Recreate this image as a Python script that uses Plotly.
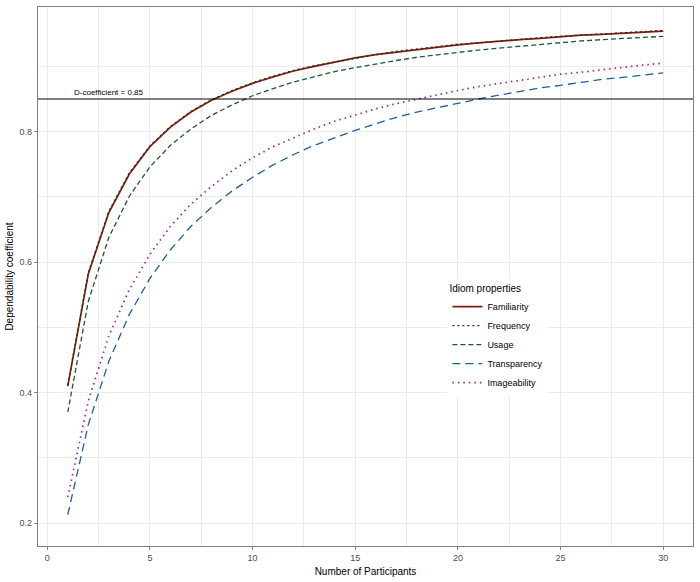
import plotly.graph_objects as go

participants = list(range(1, 31))

familiarity = [0.410, 0.582, 0.676, 0.735, 0.777, 0.807, 0.830, 0.848, 0.862, 0.874,
               0.884, 0.893, 0.900, 0.907, 0.913, 0.918, 0.922, 0.926, 0.930, 0.933,
               0.936, 0.939, 0.941, 0.943, 0.946, 0.948, 0.949, 0.951, 0.953, 0.954]
frequency = [0.412, 0.584, 0.678, 0.737, 0.778, 0.808, 0.831, 0.849, 0.863, 0.875,
             0.885, 0.894, 0.901, 0.907, 0.913, 0.918, 0.923, 0.927, 0.930, 0.934,
             0.936, 0.939, 0.941, 0.944, 0.946, 0.948, 0.950, 0.951, 0.953, 0.955]
usage = [0.370, 0.540, 0.638, 0.701, 0.746, 0.779, 0.804, 0.825, 0.841, 0.855,
         0.866, 0.876, 0.884, 0.892, 0.898, 0.904, 0.909, 0.914, 0.918, 0.922,
         0.925, 0.928, 0.931, 0.934, 0.936, 0.939, 0.941, 0.943, 0.945, 0.946]
transparency = [0.213, 0.351, 0.448, 0.520, 0.575, 0.619, 0.655, 0.684, 0.709, 0.730,
                0.749, 0.765, 0.779, 0.791, 0.802, 0.812, 0.822, 0.830, 0.837, 0.844,
                0.850, 0.856, 0.862, 0.867, 0.871, 0.876, 0.880, 0.883, 0.887, 0.890]
imageability = [0.240, 0.387, 0.487, 0.558, 0.612, 0.655, 0.689, 0.716, 0.740, 0.760,
                0.777, 0.791, 0.804, 0.816, 0.826, 0.835, 0.843, 0.850, 0.857, 0.863,
                0.869, 0.874, 0.879, 0.883, 0.888, 0.891, 0.895, 0.898, 0.902, 0.905]

series = [
    ('Familiarity', familiarity, '#7b1f12', 'solid', 1.7),
    ('Frequency', frequency, '#2f2f14', '2px,3px', 1.3),
    ('Usage', usage, '#1d5a32', '5px,3px', 1.3),
    ('Transparency', transparency, '#1f5f9e', '8px,5px', 1.3),
    ('Imageability', imageability, '#a0209a', '1.5px,4px', 1.7),
]

fig = go.Figure()
for name, vals, color, dash, width in series:
    fig.add_trace(go.Scatter(
        x=participants, y=vals, mode='lines', name=name,
        line=dict(color=color, dash=dash, width=width),
    ))

fig.add_hline(y=0.85, line=dict(color='black', width=1))
fig.add_annotation(x=3, y=0.85, text='D-coefficient = 0.85', showarrow=False,
                   yanchor='bottom', font=dict(size=8, color='black'))

grid = '#ebebeb'
fig.update_layout(
    width=700, height=582,
    margin=dict(l=38, r=7, t=6, b=35),
    paper_bgcolor='white', plot_bgcolor='white',
    font=dict(family='Liberation Sans, Arial, sans-serif', color='black'),
    xaxis=dict(
        range=[-0.45, 31.45], tick0=0, dtick=5,
        showgrid=True, gridcolor=grid, gridwidth=1,
        minor=dict(dtick=2.5, showgrid=True, gridcolor=grid, gridwidth=0.5),
        showline=True, mirror=True, linecolor='#7f7f7f', linewidth=1.2,
        ticks='outside', ticklen=3, tickcolor='#7f7f7f',
        tickfont=dict(size=9, color='#4d4d4d'), zeroline=False,
        title=dict(text='Number of Participants', font=dict(size=10), standoff=6),
    ),
    yaxis=dict(
        range=[0.165, 0.991], tick0=0, dtick=0.2,
        showgrid=True, gridcolor=grid, gridwidth=1,
        minor=dict(dtick=0.1, showgrid=True, gridcolor=grid, gridwidth=0.5),
        showline=True, mirror=True, linecolor='#7f7f7f', linewidth=1.2,
        ticks='outside', ticklen=3, tickcolor='#7f7f7f',
        tickfont=dict(size=9, color='#4d4d4d'), zeroline=False,
        title=dict(text='Dependability coefficient', font=dict(size=10), standoff=4),
    ),
    legend=dict(
        title=dict(text='Idiom properties', font=dict(size=10)),
        font=dict(size=9), x=0.625, y=0.495, xanchor='left', yanchor='top',
        bgcolor='white', itemwidth=30, tracegroupgap=0,
    ),
)

# the page body has a default 8px margin; drop it so the figure sits at the corner
fig.write_html('out.html', config={'displayModeBar': False},
               post_script="document.body.style.margin='0';")
